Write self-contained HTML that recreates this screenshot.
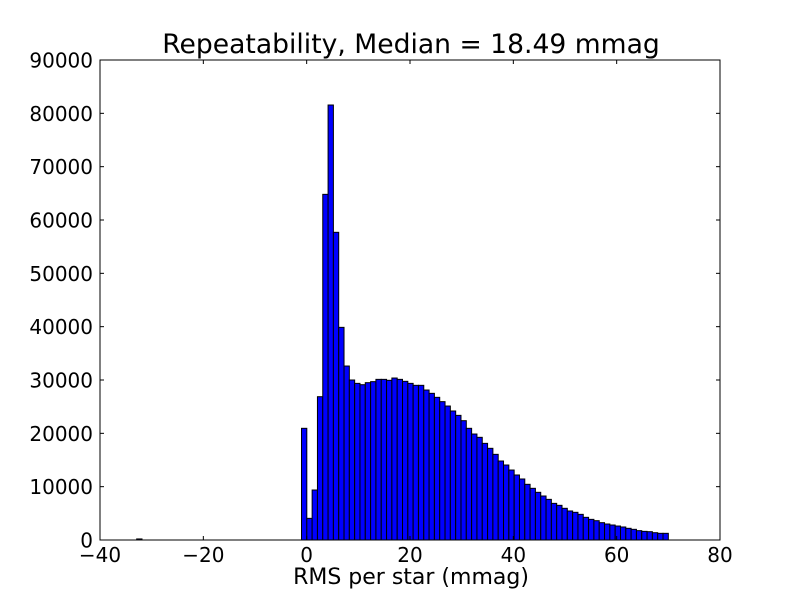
<!DOCTYPE html>
<html><head><meta charset="utf-8"><style>
body{margin:0;background:#fff;}
svg{display:block;font-family:"DejaVu Sans","Liberation Sans",sans-serif;}
</style></head><body>
<svg id="chart" width="800" height="600" viewBox="0 0 800 600">
<rect width="800" height="600" fill="#fff"/>
<text x="411" y="53" font-size="26.6" text-anchor="middle">Repeatability, Median = 18.49 mmag</text>
<g id="bars"></g>
<rect x="100" y="60" width="620" height="480" fill="none" stroke="#000" stroke-width="1"/>
<g id="axes"></g>
<text x="411" y="584" font-size="22" text-anchor="middle">RMS per star (mmag)</text>
</svg>
<script>
const binStart = -32.9;
const binWidth = 1.029;
const counts = [200,0,0,0,0,0,0,0,0,0,0,0,0,0,0,0,0,0,0,0,0,0,0,0,0,0,0,0,0,0,0,
20940,4060,9375,26870,64810,81560,57690,39870,32620,30000,29370,29120,29500,29690,30120,30120,29940,30370,30120,29750,29370,29000,29000,28120,27500,26750,25940,25120,24190,23370,22370,20940,19870,19250,18120,17190,
16060,14810,14060,13120,12190,11440,10440,9690,8940,8250,7620,6870,6500,5940,5440,5190,4810,4250,3870,3620,3250,3000,2810,2620,2440,2190,2000,1750,1620,1560,1370,1250,1250];
const xTicks = [-40,-20,0,20,40,60,80];
const yTicks = [0,10000,20000,30000,40000,50000,60000,70000,80000,90000];
const X = v => 100 + (v + 40) / 120 * 620;
const Y = v => 540 - v / 90000 * 480;
const NS = "http://www.w3.org/2000/svg";
const bars = document.getElementById('bars');
counts.forEach((c, i) => {
  const x0 = X(binStart + i * binWidth), x1 = X(binStart + (i + 1) * binWidth);
  const r = document.createElementNS(NS, 'rect');
  r.setAttribute('x', x0); r.setAttribute('width', x1 - x0);
  r.setAttribute('y', Y(c)); r.setAttribute('height', 540 - Y(c));
  r.setAttribute('fill', '#0000ff'); r.setAttribute('stroke', '#000'); r.setAttribute('stroke-width', '1');
  
  
  bars.appendChild(r);
});
const axes = document.getElementById('axes');
xTicks.forEach(t => {
  const x = X(t);
  [[540, 536], [60, 64]].forEach(([a, b]) => {
    const l = document.createElementNS(NS, 'line');
    l.setAttribute('x1', x); l.setAttribute('x2', x); l.setAttribute('y1', a); l.setAttribute('y2', b);
    l.setAttribute('stroke', '#000');
    
    
    axes.appendChild(l);
  });
  const tx = document.createElementNS(NS, 'text');
  tx.setAttribute('x', x); tx.setAttribute('y', 562); tx.setAttribute('font-size', '20'); tx.setAttribute('text-anchor', 'middle');
  tx.textContent = t < 0 ? '\u2212' + Math.abs(t) : t;
  
  
  axes.appendChild(tx);
});
yTicks.forEach(t => {
  const y = Y(t);
  [[100, 104], [720, 716]].forEach(([a, b]) => {
    const l = document.createElementNS(NS, 'line');
    l.setAttribute('x1', a); l.setAttribute('x2', b); l.setAttribute('y1', y); l.setAttribute('y2', y);
    l.setAttribute('stroke', '#000');
    
    
    axes.appendChild(l);
  });
  const tx = document.createElementNS(NS, 'text');
  tx.setAttribute('x', 93); tx.setAttribute('y', y + 7.5); tx.setAttribute('font-size', '20'); tx.setAttribute('text-anchor', 'end');
  tx.textContent = t;
  
  
  axes.appendChild(tx);
});
</script>
</body></html>
